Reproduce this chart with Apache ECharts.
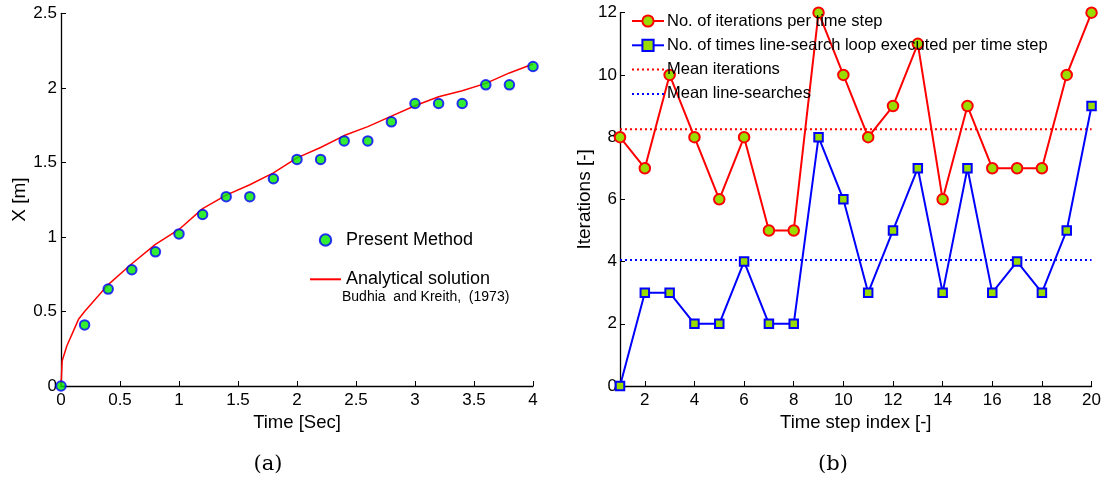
<!DOCTYPE html>
<html>
<head>
<meta charset="utf-8">
<script src="https://cdn.jsdelivr.net/npm/echarts@6/dist/echarts.min.js"></script>
<style>
html,body{margin:0;padding:0;background:#fff;}
#c{width:1104px;height:485px;}
</style>
</head>
<body>
<div id="c"></div>
<script>
// ---- Data (a) ----
const timePoints = [0,0.2,0.4,0.6,0.8,1.0,1.2,1.4,1.6,1.8,2.0,2.2,2.4,2.6,2.8,3.0,3.2,3.4,3.6,3.8,4.0];
const presentMethod = [0,0.41,0.65,0.78,0.90,1.02,1.15,1.27,1.27,1.39,1.52,1.52,1.644,1.644,1.772,1.895,1.895,1.895,2.02,2.02,2.143];
const analyticalT = [0,0.01,0.05,0.1,0.15,0.2,0.3,0.4,0.6,0.8,1.0,1.2,1.4,1.6,1.8,2.0,2.2,2.4,2.6,2.8,3.0,3.2,3.4,3.6,3.8,4.0];
const analyticalX = [0,0.17,0.27,0.36,0.45,0.5,0.59,0.68,0.82,0.95,1.05,1.19,1.28,1.35,1.43,1.53,1.6,1.68,1.74,1.81,1.88,1.94,1.98,2.03,2.1,2.16];
// ---- Data (b) ----
const stepIndex = [1,2,3,4,5,6,7,8,9,10,11,12,13,14,15,16,17,18,19,20];
const iterations = [8,7,10,8,6,8,5,5,12,10,8,9,11,6,9,7,7,7,10,12];
const lineSearches = [0,3,3,2,2,4,2,2,8,6,3,5,7,3,7,3,4,3,5,9];
const meanIterations = 8.25;
const meanLineSearches = 4.05;
const bTicks = [2,4,6,8,10,12,14,16,18,20];

const FONT = '"Liberation Sans", Arial, sans-serif';
const axisLineStyle = {show:true, lineStyle:{color:'#000', width:1.3}};
const tickStyle = {show:true, inside:true, length:5, lineStyle:{color:'#000', width:1}};
const labelStyle = {color:'#000', fontSize:17, fontFamily:FONT};
const hideSymbol = {opacity:0, color:'transparent', borderWidth:0};
const xNameStyle = {color:'#000', fontSize:18.5, fontFamily:FONT};
const yNameStyle = {color:'#000', fontSize:19, fontFamily:FONT};

const zip = (a,b) => a.map((v,i)=>[v,b[i]]);

const chart = echarts.init(document.getElementById('c'));
chart.setOption({
  animation:false,
  backgroundColor:'#fff',
  grid:[
    {left:61, top:13.3, width:472, height:372.7},
    {left:620, top:12.7, width:472, height:373.3}
  ],
  xAxis:[
    {type:'value', gridIndex:0, min:0, max:4, interval:0.5,
     axisLine:axisLineStyle, axisTick:tickStyle, splitLine:{show:false},
     axisLabel:Object.assign({margin:6}, labelStyle),
     name:'Time [Sec]', nameLocation:'middle', nameGap:25, nameTextStyle:xNameStyle},
    {type:'value', gridIndex:1, min:1, max:20,
     axisLine:axisLineStyle,
     axisTick:Object.assign({customValues:bTicks}, tickStyle),
     splitLine:{show:false},
     axisLabel:Object.assign({margin:6, customValues:bTicks}, labelStyle),
     name:'Time step index [-]', nameLocation:'middle', nameGap:25, nameTextStyle:xNameStyle}
  ],
  yAxis:[
    {type:'value', gridIndex:0, min:0, max:2.5, interval:0.5,
     axisLine:axisLineStyle, axisTick:tickStyle, splitLine:{show:false},
     axisLabel:Object.assign({margin:4}, labelStyle),
     name:'X [m]', nameLocation:'middle', nameGap:32, nameRotate:90, nameTextStyle:yNameStyle},
    {type:'value', gridIndex:1, min:0, max:12, interval:2,
     axisLine:axisLineStyle, axisTick:tickStyle, splitLine:{show:false},
     axisLabel:Object.assign({margin:3}, labelStyle),
     name:'Iterations [-]', nameLocation:'middle', nameGap:26, nameRotate:90, nameTextStyle:yNameStyle}
  ],
  legend:[
    {left:309, top:231, padding:0, orient:'vertical', itemWidth:31, itemHeight:11.5, itemGap:21.3,
     textStyle:{color:'#000', fontSize:18, fontFamily:FONT},
     data:['Present Method',{name:'Analytical solution', itemStyle:hideSymbol}]},
    {left:631, top:12.5, padding:0, orient:'vertical', itemWidth:32, itemHeight:14, itemGap:7.3,
     textStyle:{color:'#000', fontSize:16.5, fontFamily:FONT, padding:[0,0,0,-2]},
     data:['No. of iterations per time step','No. of times line-search loop executed per time step',
           {name:'Mean iterations', itemStyle:hideSymbol},{name:'Mean line-searches', itemStyle:hideSymbol}]}
  ],
  series:[
    {name:'Analytical solution', type:'line', xAxisIndex:0, yAxisIndex:0,
     data:zip(analyticalT, analyticalX), showSymbol:false, symbol:'none',
     lineStyle:{color:'#ff0000', width:1.5}, itemStyle:{color:'#ff0000'}, z:2},
    {name:'Present Method', type:'scatter', xAxisIndex:0, yAxisIndex:0,
     data:zip(timePoints, presentMethod), symbol:'circle', symbolSize:9.5,
     itemStyle:{color:'#00e800', borderColor:'#0000ff', borderWidth:2}, z:3},
    {name:'Mean iterations', type:'line', xAxisIndex:1, yAxisIndex:1,
     data:[[1,meanIterations],[20,meanIterations]], symbol:'none',
     lineStyle:{color:'#ff0000', width:2, type:[2,3]}, itemStyle:{color:'#ff0000'}, z:1},
    {name:'Mean line-searches', type:'line', xAxisIndex:1, yAxisIndex:1,
     data:[[1,meanLineSearches],[20,meanLineSearches]], symbol:'none',
     lineStyle:{color:'#0000ff', width:2, type:[2,3]}, itemStyle:{color:'#0000ff'}, z:1},
    {name:'No. of iterations per time step', type:'line', xAxisIndex:1, yAxisIndex:1,
     data:zip(stepIndex, iterations), symbol:'circle', symbolSize:10.5, showAllSymbol:true,
     lineStyle:{color:'#ff0000', width:2},
     itemStyle:{color:'#99dd00', borderColor:'#ff0000', borderWidth:2}, z:3},
    {name:'No. of times line-search loop executed per time step', type:'line', xAxisIndex:1, yAxisIndex:1,
     data:zip(stepIndex, lineSearches), symbol:'rect', symbolSize:8.5, showAllSymbol:true,
     lineStyle:{color:'#0000ff', width:2},
     itemStyle:{color:'#99dd00', borderColor:'#0000ff', borderWidth:2}, z:3}
  ],
  graphic:[
    {type:'text', x:342, y:297, style:{text:'Budhia  and Kreith,  (1973)', fill:'#000', fontSize:14, fontFamily:FONT, verticalAlign:'middle'}},
    {type:'text', x:268, y:465, style:{text:'(a)', fill:'#000', fontSize:21, fontFamily:'"DejaVu Serif", "Liberation Serif", serif', align:'center', verticalAlign:'middle'}},
    {type:'text', x:833, y:465, style:{text:'(b)', fill:'#000', fontSize:21, fontFamily:'"DejaVu Serif", "Liberation Serif", serif', align:'center', verticalAlign:'middle'}}
  ]
});
</script>
</body>
</html>
